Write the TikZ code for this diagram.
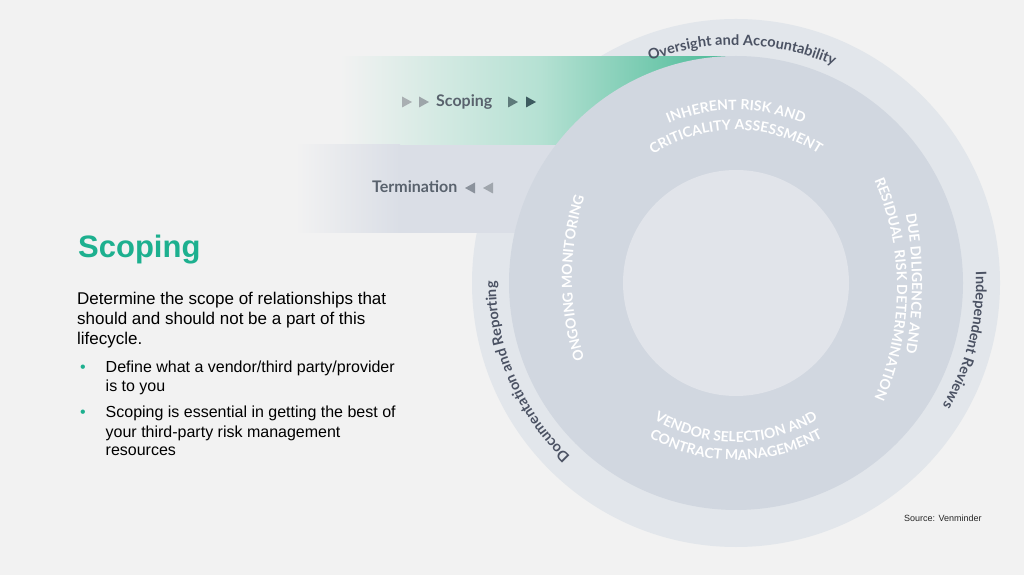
\documentclass[tikz,border=0pt]{standalone}
\usepackage{fontspec}
\setmainfont{Liberation Sans}
\newfontfamily\lato{Lato}
\usetikzlibrary{decorations.text,calc}
\definecolor{bgc}{HTML}{F2F2F2}
\definecolor{outerc}{HTML}{E2E6EB}
\definecolor{midc}{HTML}{D1D7E0}
\definecolor{innerc}{HTML}{E1E4EA}
\definecolor{termc}{HTML}{DADEE6}
\definecolor{tealA}{HTML}{B5E1D3}
\definecolor{tealB}{HTML}{45B894}
\definecolor{ringtxt}{HTML}{4B5263}
\definecolor{bandtxt}{HTML}{59626D}
\definecolor{headc}{HTML}{1DB08F}
\definecolor{triA}{HTML}{A9AFB2}
\definecolor{triB}{HTML}{9DA5A9}
\definecolor{triC}{HTML}{5E7A7A}
\definecolor{triD}{HTML}{3D5B5F}
\definecolor{triE}{HTML}{8B929C}
\definecolor{triF}{HTML}{A0A6AD}
% clockwise text: colour, size, centre, radius, mid angle, half span, text
\newcommand{\cwtext}[7]{%
  \path[decorate,decoration={text along path,text align=center,text color=#1,
    text={|\lato\bfseries\fontsize{#2}{#2}\selectfont|#7}}]
    ($(#3)+({#5+#6}:#4)$) arc[start angle={#5+#6}, end angle={#5-#6}, radius=#4];}
\newcommand{\ccwtext}[7]{%
  \path[decorate,decoration={text along path,text align=center,text color=#1,
    text={|\lato\bfseries\fontsize{#2}{#2}\selectfont|#7}}]
    ($(#3)+({#5-#6}:#4)$) arc[start angle={#5-#6}, end angle={#5+#6}, radius=#4];}
\tikzset{
  lead/.style={anchor=base west, inner sep=0pt, font=\fontsize{17}{20}\selectfont, text=black},
  body/.style={anchor=base west, inner sep=0pt, font=\fontsize{16}{19}\selectfont, text=black},
  bul/.style={anchor=base west, inner sep=0pt, font=\fontsize{16}{19}\selectfont, text=headc},
  bandlabel/.style={anchor=base west, inner sep=0pt, font=\lato\bfseries\fontsize{16}{16}\selectfont, text=bandtxt}
}
\begin{document}
\begin{tikzpicture}[x=1pt,y=1pt]
\useasboundingbox (0,0) rectangle (1024,575);
\fill[bgc] (0,0) rectangle (1024,575);
\coordinate (C) at (736,292);
\coordinate (Cdue) at (512,291.5);
\coordinate (Cres) at (625,286);
\coordinate (Cmon) at (842,297);
% outer ring
\fill[outerc] (C) circle[radius=264];
% bands
\shade[left color=bgc, right color=tealA] (340,430) rectangle (540,518);
\shade[left color=tealA, right color=tealB] (540,430) rectangle (736,518);
\shade[left color=bgc, right color=termc] (295,342) rectangle (400,430);
\fill[termc] (400,342) rectangle (736,430);
% middle ring and inner circle
\fill[midc] (C) circle[radius=227];
\fill[innerc] (C) circle[radius=113];
% outer ring labels
\cwtext{ringtxt}{14.5}{C}{238}{88.5}{45}{Oversight and Accountability}
\cwtext{ringtxt}{14.5}{C}{240}{-14}{40}{Independent Reviews}
\cwtext{ringtxt}{14.5}{C}{240}{203}{45}{Documentation and Reporting}
% middle ring labels
\cwtext{white}{14}{C}{173}{90}{60}{INHERENT RISK AND}
\cwtext{white}{14}{C}{153}{90}{70}{CRITICALITY ASSESSMENT}
\cwtext{white}{14}{Cdue}{400}{0}{30}{DUE DILIGENCE AND}
\cwtext{white}{14}{Cres}{272}{0}{45}{RESIDUAL\ \ RISK DETERMINATION}
\cwtext{white}{14}{Cmon}{270}{180}{40}{ONGOING MONITORING}
\ccwtext{white}{14}{C}{159}{270}{60}{VENDOR SELECTION AND}
\ccwtext{white}{14}{C}{177}{270}{60}{CONTRACT MANAGEMENT}
% band labels and arrows
\node[bandlabel] (scopeband) at (436,468) {Scoping};
\node[bandlabel] (termband) at (372,382) {Termination};
\fill[triA] (402,467.5) -- (412,473) -- (402,478.5) -- cycle;
\fill[triB] (419,467.5) -- (429,473) -- (419,478.5) -- cycle;
\fill[triC] (508,467.5) -- (518,473) -- (508,478.5) -- cycle;
\fill[triD] (526,467.5) -- (536,473) -- (526,478.5) -- cycle;
\fill[triE] (475,381.5) -- (465,387) -- (475,392.5) -- cycle;
\fill[triF] (493,381.5) -- (483,387) -- (493,392.5) -- cycle;
% left text
\node[anchor=base west, inner sep=0pt, font=\bfseries\fontsize{31}{31}\selectfont, text=headc] (head) at (78,317.3) {Scoping};
\node[lead] (l1) at (77,270) {Determine the scope of relationships that};
\node[lead] (l2) at (77,250) {should and should not be a part of this};
\node[lead] (l3) at (77,230) {lifecycle.};
\node[bul] (b1) at (80,202.3) {\textbullet};
\node[body] (l4) at (105.5,202.3) {Define what a vendor/third party/provider};
\node[body] (l5) at (105.5,183.3) {is to you};
\node[bul] (b2) at (80,157) {\textbullet};
\node[body] (l6) at (105.5,157) {Scoping is essential in getting the best of};
\node[body] (l7) at (105.5,137.3) {your third-party risk management};
\node[body] (l8) at (105.5,119) {resources};
\node[anchor=base west, inner sep=0pt, font=\fontsize{9}{9}\selectfont, text=black!85] (src) at (904,53) {Source: Venminder};
\end{tikzpicture}
\end{document}
